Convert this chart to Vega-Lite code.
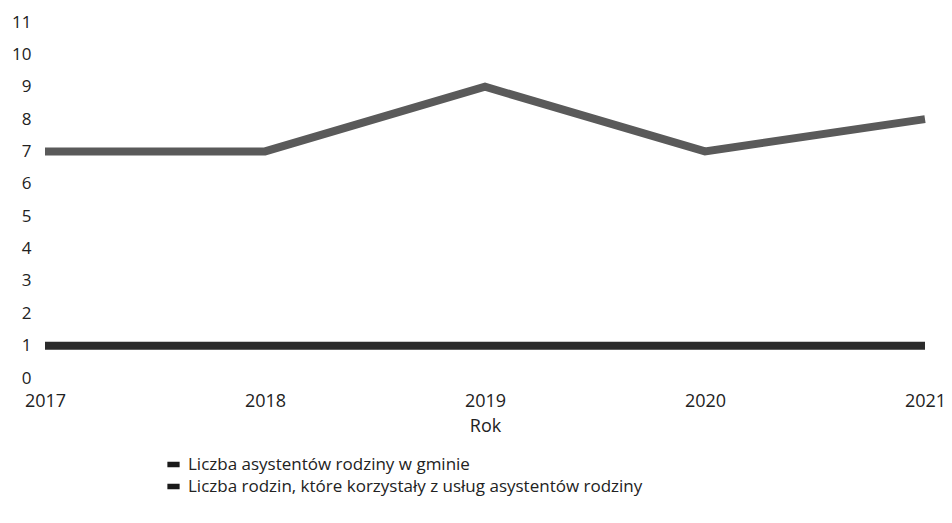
{
  "$schema": "https://vega.github.io/schema/vega-lite/v6.json",
  "width": 880,
  "height": 356,
  "autosize": {"type": "none"},
  "padding": {"left": 45, "top": 22, "right": 27, "bottom": 145},
  "background": "white",
  "config": {
    "view": {"stroke": null},
    "font": "Open Sans"
  },
  "data": {
    "values": [
      {"rok": "2017", "seria": "Liczba asystentów rodziny w gminie", "wartosc": 1},
      {"rok": "2018", "seria": "Liczba asystentów rodziny w gminie", "wartosc": 1},
      {"rok": "2019", "seria": "Liczba asystentów rodziny w gminie", "wartosc": 1},
      {"rok": "2020", "seria": "Liczba asystentów rodziny w gminie", "wartosc": 1},
      {"rok": "2021", "seria": "Liczba asystentów rodziny w gminie", "wartosc": 1},
      {"rok": "2017", "seria": "Liczba rodzin, które korzystały z usług asystentów rodziny", "wartosc": 7},
      {"rok": "2018", "seria": "Liczba rodzin, które korzystały z usług asystentów rodziny", "wartosc": 7},
      {"rok": "2019", "seria": "Liczba rodzin, które korzystały z usług asystentów rodziny", "wartosc": 9},
      {"rok": "2020", "seria": "Liczba rodzin, które korzystały z usług asystentów rodziny", "wartosc": 7},
      {"rok": "2021", "seria": "Liczba rodzin, które korzystały z usług asystentów rodziny", "wartosc": 8}
    ]
  },
  "mark": {"type": "line", "strokeWidth": 8, "strokeJoin": "miter", "strokeCap": "butt"},
  "encoding": {
    "x": {
      "field": "rok",
      "type": "ordinal",
      "scale": {"type": "point", "padding": 0},
      "title": "Rok",
      "axis": {
        "labelAngle": 0,
        "domain": false,
        "ticks": false,
        "grid": false,
        "labelFontSize": 18,
        "labelColor": "#222",
        "labelPadding": 14,
        "labelFont": "Open Sans",
        "titleFont": "Open Sans",
        "titleFontSize": 18,
        "titleFontWeight": "normal",
        "titleColor": "#222",
        "titlePadding": 7
      }
    },
    "y": {
      "field": "wartosc",
      "type": "quantitative",
      "scale": {"domain": [0, 11], "nice": false},
      "title": null,
      "axis": {
        "values": [0, 1, 2, 3, 4, 5, 6, 7, 8, 9, 10, 11],
        "domain": false,
        "ticks": false,
        "grid": false,
        "labelFontSize": 17,
        "labelColor": "#222",
        "labelPadding": 14,
        "labelFont": "Open Sans"
      }
    },
    "color": {
      "field": "seria",
      "type": "nominal",
      "scale": {
        "domain": ["Liczba asystentów rodziny w gminie", "Liczba rodzin, które korzystały z usług asystentów rodziny"],
        "range": ["#2b2b2b", "#5a5a5a"]
      },
      "legend": {
        "title": null,
        "orient": "none",
        "legendX": 120,
        "legendY": 434,
        "direction": "vertical",
        "symbolType": "M-1,-0.45H1V0.45H-1Z",
        "symbolSize": 150,
        "symbolFillColor": "#1a1a1a",
        "symbolStrokeWidth": 0,
        "labelFontSize": 17,
        "labelLimit": 0,
        "labelColor": "#222",
        "labelFont": "Open Sans",
        "labelOffset": 6,
        "rowPadding": 4,
        "symbolOffset": 0
      }
    }
  }
}
